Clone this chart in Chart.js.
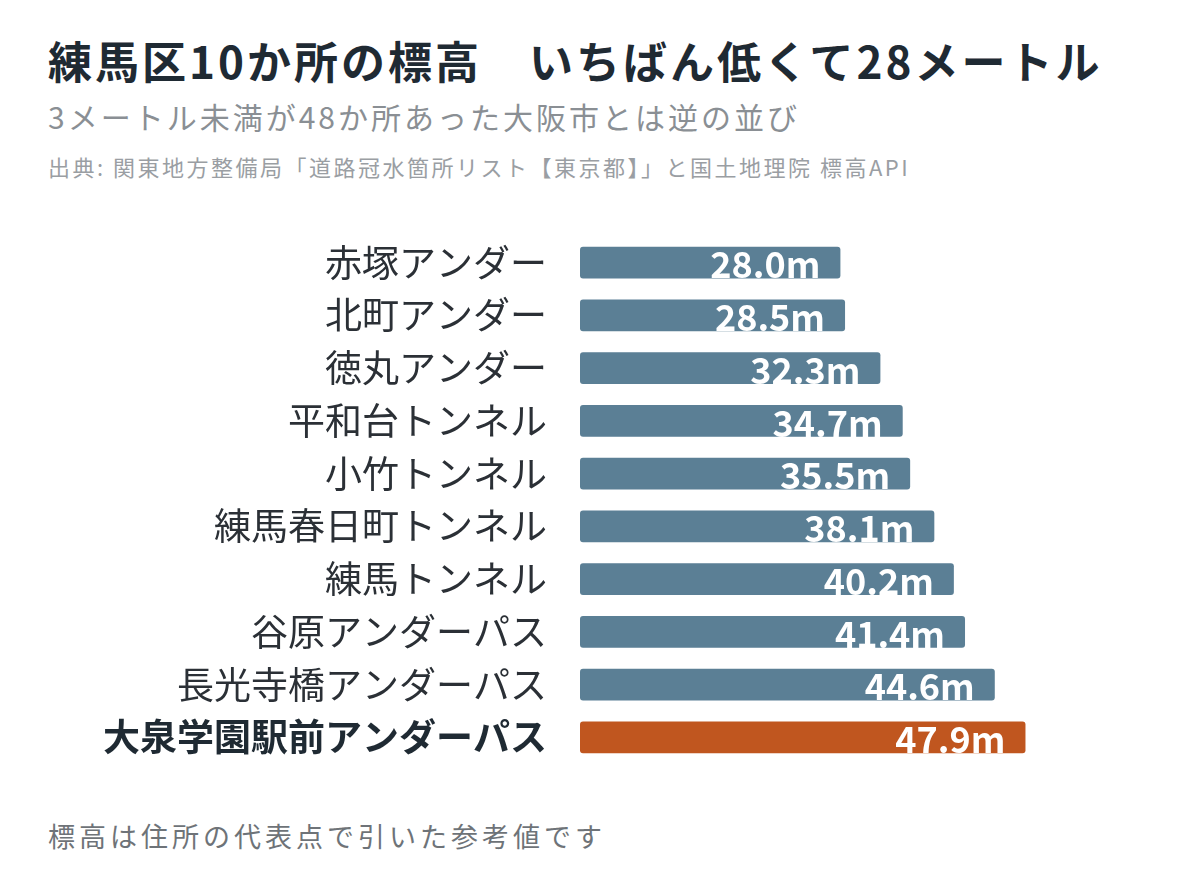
<!DOCTYPE html>
<html><head><meta charset="utf-8">
<script src="https://cdn.jsdelivr.net/npm/chart.js@4"></script>
<style>
body{margin:0;width:1200px;height:886px;background:#fff;font-family:"Noto Sans CJK JP",sans-serif;position:relative;overflow:hidden}
#t{position:absolute;left:48px;top:28px;font-size:44px;letter-spacing:3px;font-weight:bold;color:#1f2a33;white-space:pre}
#s{position:absolute;left:48px;top:94px;font-size:30px;letter-spacing:3px;color:#8a8f94}
#src{position:absolute;left:48px;top:150px;font-size:22px;letter-spacing:2.5px;color:#9a9ea3}
#n{position:absolute;left:48px;top:816px;font-size:27px;letter-spacing:4px;color:#6e7378}
#cv{position:absolute;left:0;top:189px}
</style></head><body>
<div id="t">練馬区10か所の標高　いちばん低くて28メートル</div>
<div id="s">3メートル未満が48か所あった大阪市とは逆の並び</div>
<div id="src">出典: 関東地方整備局「道路冠水箇所リスト【東京都】」と国土地理院 標高API</div>
<canvas id="cv" width="1200" height="622" style="width:1200px;height:622px"></canvas>
<div id="n">標高は住所の代表点で引いた参考値です</div>
<script>
const names = ["赤塚アンダー","北町アンダー","徳丸アンダー","平和台トンネル","小竹トンネル","練馬春日町トンネル","練馬トンネル","谷原アンダーパス","長光寺橋アンダーパス","大泉学園駅前アンダーパス"];
const heights = [28.0,28.5,32.3,34.7,35.5,38.1,40.2,41.4,44.6,47.9];
const highlight = 9;

const valueLabels = {
  id: "valueLabels",
  afterDatasetsDraw(chart) {
    const ctx = chart.ctx;
    const meta = chart.getDatasetMeta(0);
    ctx.save();
    ctx.fillStyle = "#fff";
    ctx.font = "bold 36px 'Noto Sans CJK JP'";
    ctx.textAlign = "right";
    ctx.textBaseline = "middle";
    meta.data.forEach((bar, i) => {
      ctx.fillText(heights[i].toFixed(1) + "m", bar.x - 20, bar.y + 2);
    });
    ctx.restore();
  }
};

new Chart(document.getElementById("cv"), {
  type: "bar",
  data: {
    labels: names,
    datasets: [{
      data: heights,
      backgroundColor: heights.map((v, i) => i === highlight ? "#c0561f" : "#5b7f95"),
      borderRadius: 3,
      borderSkipped: false,
      barPercentage: 0.6,
      categoryPercentage: 1
    }]
  },
  options: {
    indexAxis: "y",
    responsive: false,
    animation: false,
    layout: { padding: { left: 0, right: 155, top: 0, bottom: 0 } },
    plugins: { legend: { display: false }, tooltip: { enabled: false } },
    scales: {
      x: { min: 0, max: 50, display: false },
      y: {
        grid: { display: false },
        border: { display: false },
        afterFit(s) { s.width = 580; },
        ticks: {
          padding: 25,
          color: (c) => c.index === highlight ? "#1f2a33" : "#2b3036",
          font: (c) => ({ size: 37, family: "Noto Sans CJK JP", weight: c.index === highlight ? "bold" : "normal" })
        }
      }
    }
  },
  plugins: [valueLabels]
});
</script>
</body></html>
